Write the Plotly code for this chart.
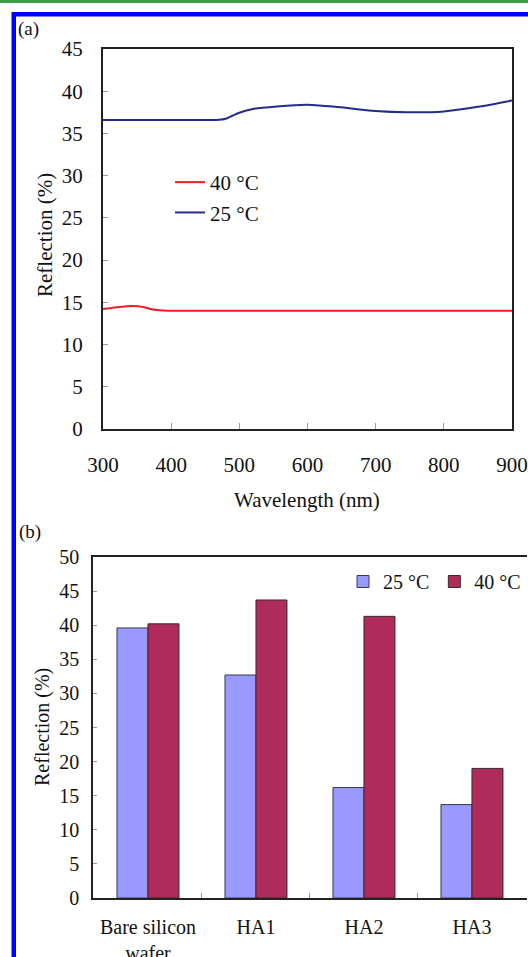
import plotly.graph_objects as go

# ---------------- data ----------------
wavelength_25 = [300, 340, 380, 420, 466, 480, 490, 500, 520, 555, 600, 640, 700, 745, 800, 850, 900]
refl_25 = [36.6, 36.6, 36.6, 36.6, 36.6, 36.75, 37.1, 37.45, 37.9, 38.2, 38.4, 38.15, 37.65, 37.5, 37.6, 38.15, 38.9]

wavelength_40 = [300, 320, 344, 359, 373, 388, 420, 500, 600, 700, 800, 900]
refl_40 = [14.2, 14.42, 14.57, 14.45, 14.14, 14.02, 14.0, 14.0, 14.0, 14.0, 14.0, 14.0]

samples = ["Bare silicon<br>wafer", "HA1", "HA2", "HA3"]
bar_25 = [39.6, 32.7, 16.2, 13.7]
bar_40 = [40.2, 43.7, 41.3, 19.0]

W, H = 528, 957
FONT = "Liberation Serif, Times New Roman, serif"


def px(x):
    return x / W


def py(y):
    return 1 - y / H


fig = go.Figure()

# ---------------- panel (a) ----------------
fig.add_trace(go.Scatter(
    x=wavelength_40, y=refl_40, mode="lines", name="40 \u00b0C",
    line=dict(color="#EE1C25", width=2, shape="spline", smoothing=0.8),
    xaxis="x", yaxis="y", legend="legend", legendgroup="a40",
))
fig.add_trace(go.Scatter(
    x=wavelength_25, y=refl_25, mode="lines", name="25 \u00b0C",
    line=dict(color="#232C8C", width=2, shape="spline", smoothing=0.8),
    xaxis="x", yaxis="y", legend="legend", legendgroup="a25",
))

# ---------------- panel (b) ----------------
fig.add_trace(go.Bar(
    x=samples, y=bar_25, name="25 \u00b0C",
    marker=dict(color="#9999FF", line=dict(color="#3a3a4a", width=1)),
    xaxis="x2", yaxis="y2", legend="legend2",
))
fig.add_trace(go.Bar(
    x=samples, y=bar_40, name="40 \u00b0C",
    marker=dict(color="#AE2B5C", line=dict(color="#3a2a2a", width=1)),
    xaxis="x2", yaxis="y2", legend="legend2",
))

axis_common = dict(
    showgrid=False, zeroline=False, showline=True, linecolor="#222222",
    ticks="inside", tickcolor="#9a9a9a", automargin=False,
)

fig.update_layout(
    width=W, height=H,
    margin=dict(l=0, r=0, t=0, b=0),
    paper_bgcolor="white", plot_bgcolor="white",
    font=dict(family=FONT, color="#111111", size=21),
    template="none",
    barmode="group", bargap=0.426, bargroupgap=0,
    xaxis=dict(
        axis_common, domain=[px(103), px(512)], range=[300, 900], dtick=100,
        anchor="y", mirror=True, linewidth=2, ticklen=6,
        tickfont=dict(size=21), ticklabelstandoff=16,
    ),
    yaxis=dict(
        axis_common, domain=[py(429), py(49)], range=[0, 45], dtick=5,
        anchor="x", mirror=True, linewidth=2, ticklen=5,
        tickfont=dict(size=21), ticklabelstandoff=14,
    ),
    xaxis2=dict(
        axis_common, domain=[px(93), px(526.5)], range=[-0.509, 3.505],
        anchor="y2", mirror=True, linewidth=1.5, ticklen=5, tickangle=0,
        tickson="boundaries", tickfont=dict(size=20), ticklabelstandoff=10,
    ),
    yaxis2=dict(
        axis_common, domain=[py(898), py(557)], range=[0, 50], dtick=5,
        anchor="x2", mirror=False, linewidth=1.5, ticklen=4,
        tickfont=dict(size=20), ticklabelstandoff=8,
    ),
    legend=dict(
        x=px(170), y=py(162), xanchor="left", yanchor="top",
        bgcolor="rgba(0,0,0,0)", orientation="v",
        traceorder="grouped", tracegroupgap=0,
        font=dict(size=21, family=FONT),
    ),
    legend2=dict(
        x=px(343), y=py(562), xanchor="left", yanchor="top",
        bgcolor="rgba(0,0,0,0)", orientation="h",
        font=dict(size=20, family=FONT),
    ),
    showlegend=True,
)

# axis titles and panel labels
fig.add_annotation(text="Wavelength (nm)", x=px(307), y=py(500), xref="paper", yref="paper",
                   showarrow=False, font=dict(size=21), xanchor="center", yanchor="middle")
fig.add_annotation(text="Reflection (%)", x=px(45), y=py(235), xref="paper", yref="paper",
                   showarrow=False, textangle=-90, font=dict(size=21), xanchor="center", yanchor="middle")
fig.add_annotation(text="Reflection (%)", x=px(42), y=py(727), xref="paper", yref="paper",
                   showarrow=False, textangle=-90, font=dict(size=20), xanchor="center", yanchor="middle")
fig.add_annotation(text="(a)", x=px(16), y=py(29), xref="paper", yref="paper",
                   showarrow=False, font=dict(size=19), xanchor="left", yanchor="middle")
fig.add_annotation(text="(b)", x=px(17), y=py(532), xref="paper", yref="paper",
                   showarrow=False, font=dict(size=19), xanchor="left", yanchor="middle")

# page decorations: green rule and blue frame
fig.add_shape(type="rect", xref="paper", yref="paper", x0=0, x1=1, y0=py(3), y1=1,
              fillcolor="#3F9B46", line=dict(width=0), layer="above")
fig.add_shape(type="rect", xref="paper", yref="paper", x0=px(12), x1=1, y0=py(16.5), y1=py(12),
              fillcolor="#0000FF", line=dict(width=0), layer="above")
fig.add_shape(type="rect", xref="paper", yref="paper", x0=px(11.5), x1=px(16), y0=0, y1=py(12),
              fillcolor="#0000FF", line=dict(width=0), layer="above")

fig.write_html(
    "out.html",
    config={"displayModeBar": False},
    post_script="document.body.style.margin='0';document.body.style.overflow='hidden';",
)
